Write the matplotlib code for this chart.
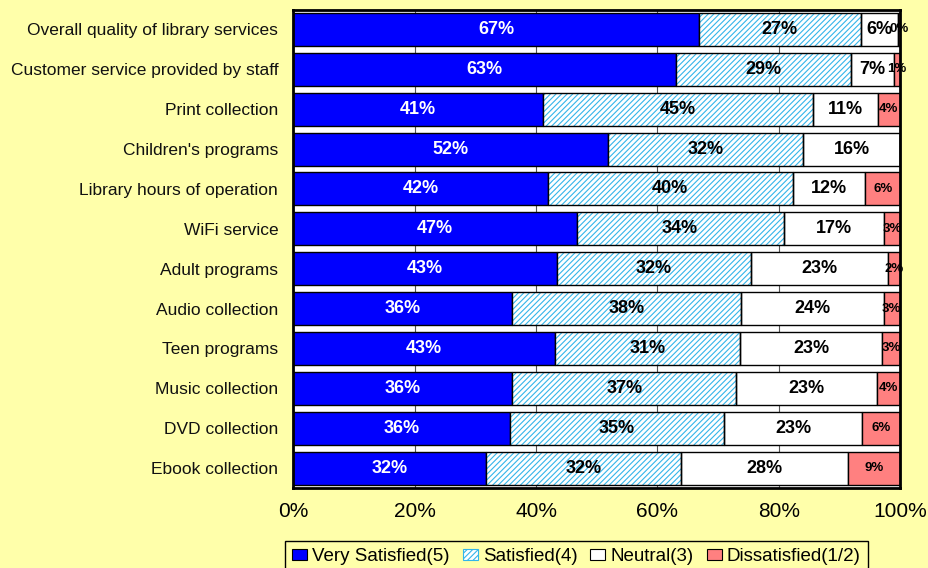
import matplotlib
matplotlib.use("Agg")
import matplotlib.pyplot as plt
import numpy as np
from matplotlib.patches import Patch

plt.rcParams['font.family'] = ['Liberation Sans', 'DejaVu Sans']
plt.rcParams['hatch.linewidth'] = 0.8

categories = [
    "Overall quality of library services",
    "Customer service provided by staff",
    "Print collection",
    "Children's programs",
    "Library hours of operation",
    "WiFi service",
    "Adult programs",
    "Audio collection",
    "Teen programs",
    "Music collection",
    "DVD collection",
    "Ebook collection",
]
very_satisfied = [66.9, 63.0, 41.1, 51.9, 41.9, 46.7, 43.4, 36.1, 43.1, 36.1, 35.7, 31.8]
satisfied      = [26.6, 29.0, 44.6, 32.1, 40.4, 34.1, 32.0, 37.7, 30.6, 36.9, 35.3, 32.1]
neutral        = [6.1,  7.0,  10.6, 16.0, 12.0, 16.6, 22.7, 23.5, 23.3, 23.2, 22.7, 27.5]
dissatisfied   = [0.4,  1.0,  3.7,  0.0,  5.7,  2.6,  1.9,  2.7,  3.0,  3.8,  6.3,  8.6]
series_names = ["Very Satisfied(5)", "Satisfied(4)", "Neutral(3)", "Dissatisfied(1/2)"]
x_ticks = [0, 20, 40, 60, 80, 100]

bg = '#FFFFAA'
blue = '#0000FF'
hatch_col = '#33B5EA'
red = '#FF8080'

fig = plt.figure(figsize=(9.29, 5.68), dpi=100, facecolor=bg)
ax = fig.add_axes([293.5/929, 1-488/568, (900-293.5)/929, (488-9.5)/568])
ax.set_facecolor('white')

y = np.arange(len(categories))
h = 0.83
vs = np.array(very_satisfied); sa = np.array(satisfied)
ne = np.array(neutral); di = np.array(dissatisfied)

# gridlines behind bars
for t in x_ticks[1:-1]:
    ax.axvline(t, color='#555555', lw=0.8, zorder=0)

ax.barh(y, vs, height=h, color=blue, edgecolor='black', lw=1, zorder=2)
left2 = vs
ax.barh(y, sa, left=left2, height=h, facecolor='white', hatch='//////',
        edgecolor=hatch_col, lw=0, zorder=2)
ax.barh(y, sa, left=left2, height=h, fill=False, edgecolor='black', lw=1, zorder=3)
left3 = vs + sa
ax.barh(y, ne, left=left3, height=h, color='white', edgecolor='black', lw=1, zorder=2)
left4 = left3 + ne
ax.barh(y, di, left=left4, height=h, color=red, edgecolor='black', lw=1, zorder=2)

def lab(v):
    return f"{v:.0f}%"

for i in range(len(categories)):
    ax.text(vs[i]/2, y[i], lab(vs[i]), ha='center', va='center', color='white',
            fontsize=13, fontweight='bold', zorder=5)
    ax.text(left2[i] + sa[i]/2, y[i], lab(sa[i]), ha='center', va='center', color='black',
            fontsize=13, fontweight='bold', zorder=5)
    ax.text(left3[i] + ne[i]/2, y[i], lab(ne[i]), ha='center', va='center', color='black',
            fontsize=13, fontweight='bold', zorder=5)
    if di[i] > 0:
        ax.text(left4[i] + di[i]/2, y[i], lab(di[i]), ha='center', va='center', color='black',
                fontsize=9.5, fontweight='bold', zorder=5)

ax.set_xlim(0, 100)
ax.set_ylim(len(categories) - 0.5, -0.5)
ax.set_yticks(y)
ax.set_yticklabels(categories, fontsize=12.5, color='#111111')
ax.set_xticks(x_ticks)
ax.set_xticklabels([f"{t}%" for t in x_ticks], fontsize=15)
ax.tick_params(axis='y', length=0, pad=11)
ax.tick_params(axis='x', length=0, pad=10)
for s in ax.spines.values():
    s.set_linewidth(2)
    s.set_color('black')
    s.set_zorder(6)

handles = [
    Patch(facecolor=blue, edgecolor='black', lw=0.8),
    Patch(facecolor='white', edgecolor=hatch_col, hatch='//////', lw=0.8),
    Patch(facecolor='white', edgecolor='black', lw=0.8),
    Patch(facecolor=red, edgecolor='black', lw=0.8),
]
leg = fig.legend(handles, series_names, loc='upper left', ncol=4,
                 bbox_to_anchor=(285/929, 1-541/568), fontsize=13.5,
                 frameon=True, fancybox=False, edgecolor='black', facecolor=bg,
                 framealpha=1, handlelength=0.8, handleheight=0.55, handletextpad=0.27,
                 columnspacing=0.7, borderpad=0.37, borderaxespad=0)
leg.get_frame().set_linewidth(1)

fig.savefig('out.png', dpi=100, facecolor=bg)
